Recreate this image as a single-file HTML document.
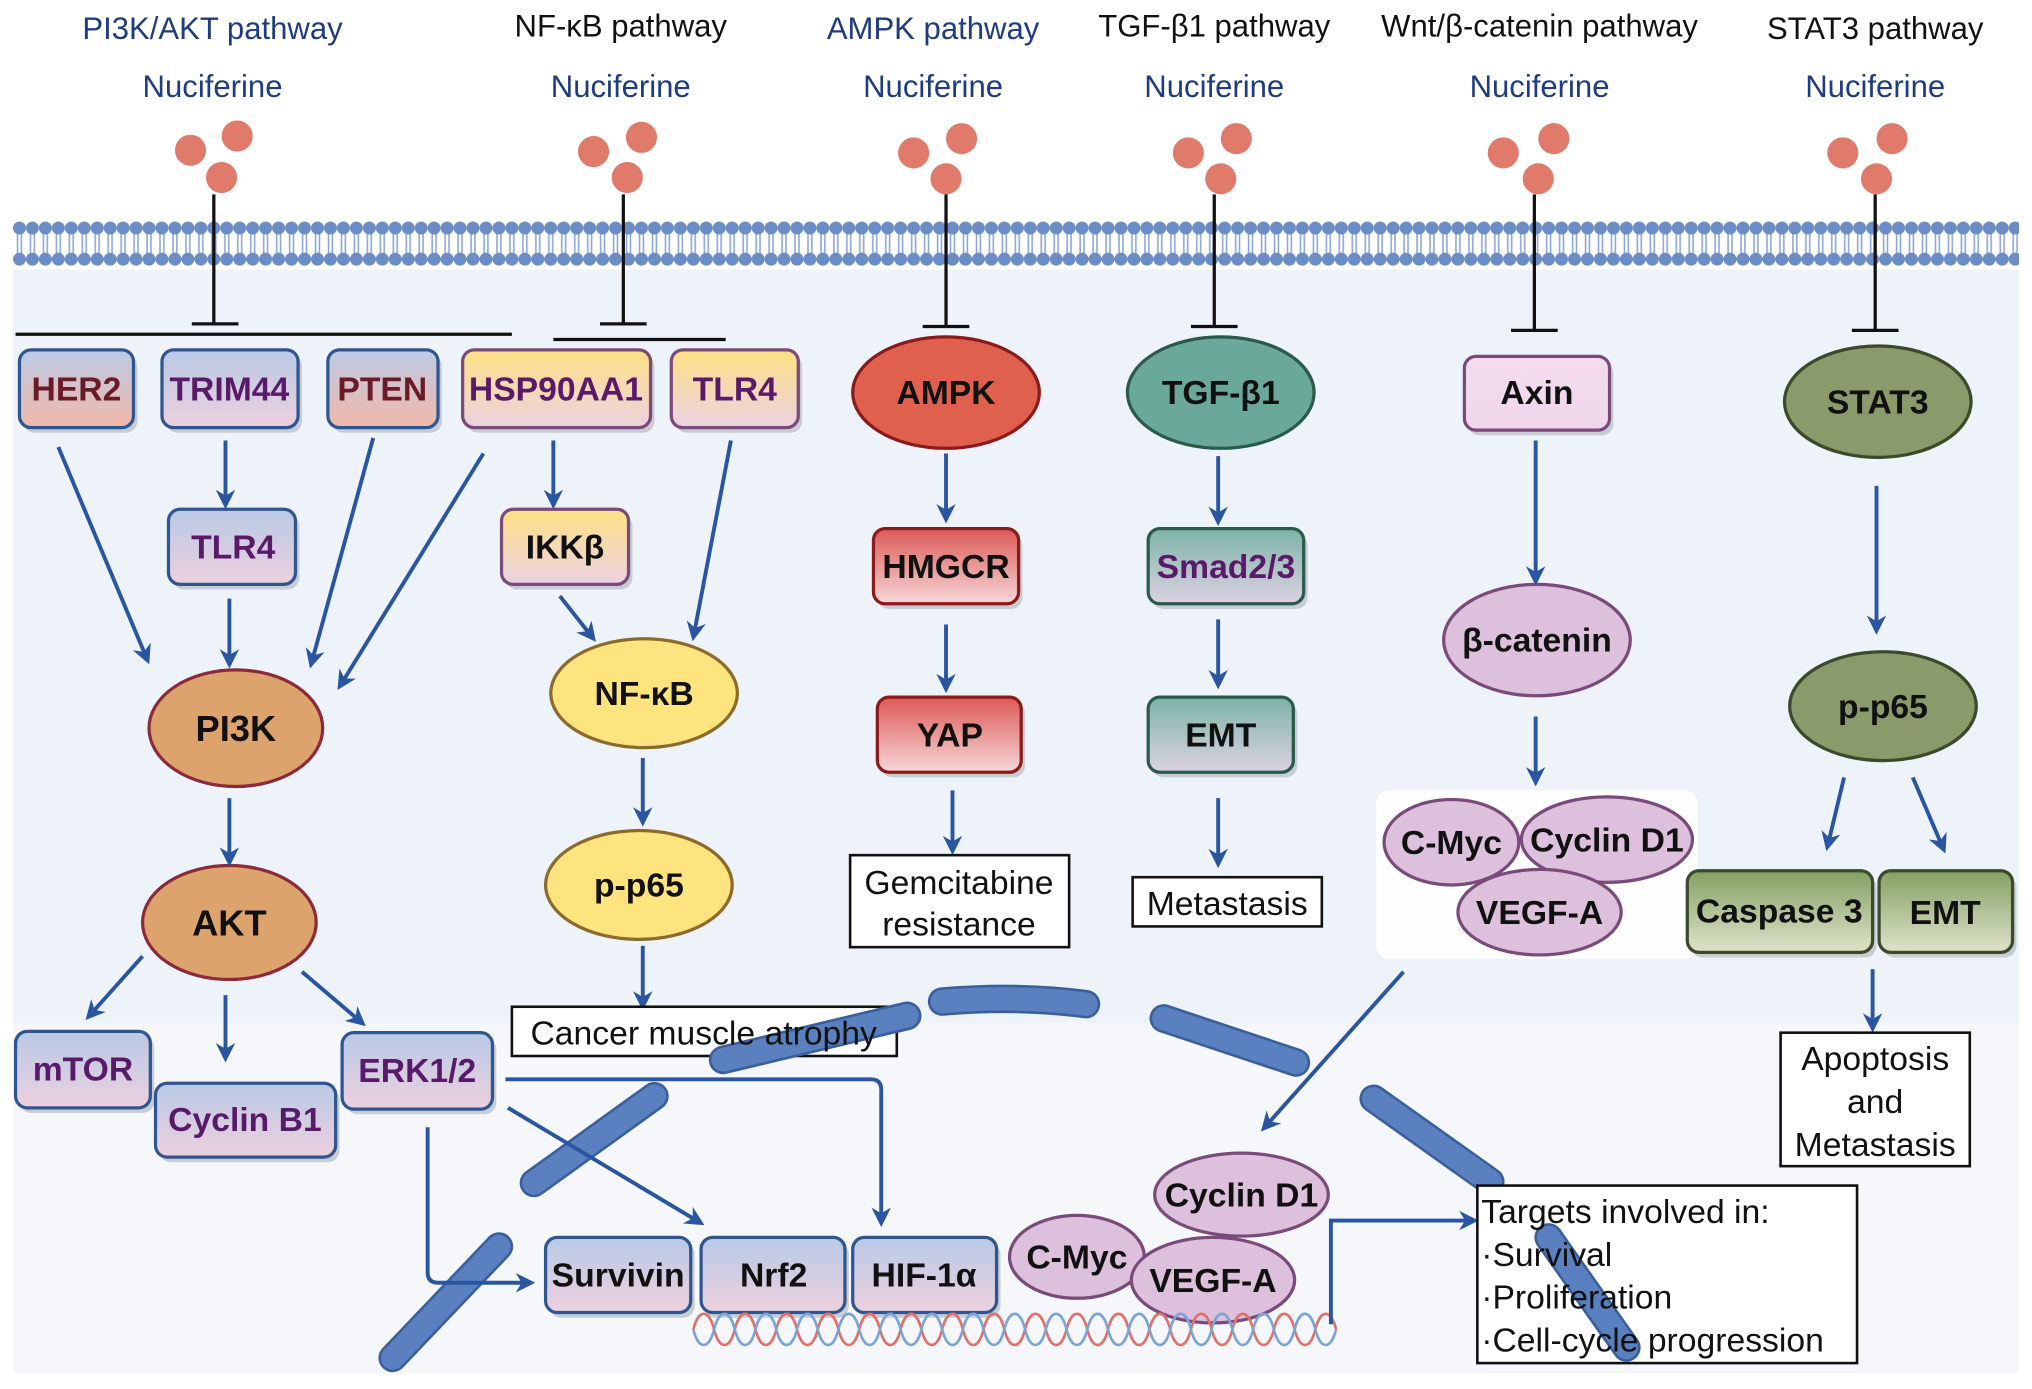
<!DOCTYPE html>
<html><head><meta charset="utf-8"><style>html,body{margin:0;padding:0;background:#fff}svg{display:block}</style></head><body>
<svg width="2032" height="1389" viewBox="0 0 1568 1072" preserveAspectRatio="none" xmlns="http://www.w3.org/2000/svg" font-family="Liberation Sans, Arial, sans-serif">
<defs>
<linearGradient id="gb" x1="0" y1="0" x2="0" y2="1"><stop offset="0" stop-color="#b9c9e6"/><stop offset="1" stop-color="#ecd0de"/></linearGradient>
<linearGradient id="gbr" x1="0" y1="0" x2="0" y2="1"><stop offset="0" stop-color="#bccbe6"/><stop offset="1" stop-color="#f0b8a8"/></linearGradient>
<linearGradient id="gy" x1="0" y1="0" x2="0" y2="1"><stop offset="0" stop-color="#fde084"/><stop offset="1" stop-color="#ecd2e2"/></linearGradient>
<linearGradient id="gr" x1="0" y1="0" x2="0" y2="1"><stop offset="0" stop-color="#dc5a56"/><stop offset="1" stop-color="#f6d6d8"/></linearGradient>
<linearGradient id="gt" x1="0" y1="0" x2="0" y2="1"><stop offset="0" stop-color="#7db3a6"/><stop offset="1" stop-color="#dcd2e2"/></linearGradient>
<linearGradient id="gg" x1="0" y1="0" x2="0" y2="1"><stop offset="0" stop-color="#84a062"/><stop offset="1" stop-color="#dfe2cc"/></linearGradient>
<linearGradient id="gp" x1="0" y1="0" x2="0" y2="1"><stop offset="0" stop-color="#f4dcef"/><stop offset="1" stop-color="#f0d6ea"/></linearGradient>
<pattern id="mem" x="10" y="158" width="10" height="50" patternUnits="userSpaceOnUse">
<line x1="3.5" y1="20" x2="3.5" y2="40" stroke="#8aa4d4" stroke-width="1.2"/><line x1="6.5" y1="20" x2="6.5" y2="40" stroke="#8aa4d4" stroke-width="1.2"/>
<circle cx="5" cy="18" r="5" fill="#6c8cc6"/><circle cx="5" cy="42" r="5" fill="#6c8cc6"/>
</pattern>
<marker id="ar" viewBox="0 0 10 10" refX="8" refY="5" markerWidth="5" markerHeight="5" orient="auto"><path d="M0,0 L10,5 L0,10 L3,5 z" fill="#2a55a0"/></marker>
</defs>
<rect x="10" y="200" width="1548" height="590" fill="#eef3fa"/>
<rect x="10" y="790" width="1548" height="270" fill="#f5f7fa"/>
<rect x="10" y="168" width="1548" height="40" fill="#fff"/>
<rect x="10" y="158" width="1548" height="50" fill="url(#mem)"/>

<!-- curved background strands -->
<g stroke="#3a5f9e" stroke-width="22" stroke-linecap="round" fill="none">
<path d="M558,818 L700,784"/><path d="M727,773 Q785,768 838,775"/><path d="M898,786 L1000,820"/><path d="M1060,848 L1150,912"/><path d="M412,913 L505,846"/><path d="M303,1048 L385,962"/>
</g>
<g stroke="#5a80c0" stroke-width="18" stroke-linecap="round" fill="none">
<path d="M558,818 L700,784"/><path d="M727,773 Q785,768 838,775"/><path d="M898,786 L1000,820"/><path d="M1060,848 L1150,912"/><path d="M412,913 L505,846"/><path d="M303,1048 L385,962"/>
</g>

<!-- titles -->
<g font-size="24" text-anchor="middle">
<text x="164" y="30" fill="#1f3c80">PI3K/AKT pathway</text>
<text x="479" y="28" fill="#111">NF-κB pathway</text>
<text x="720" y="30" fill="#1f3c80">AMPK pathway</text>
<text x="937" y="28" fill="#111">TGF-β1 pathway</text>
<text x="1188" y="28" fill="#111">Wnt/β-catenin pathway</text>
<text x="1447" y="30" fill="#111">STAT3 pathway</text>
<g fill="#1f3c80"><text x="164" y="75">Nuciferine</text><text x="479" y="75">Nuciferine</text><text x="720" y="75">Nuciferine</text><text x="937" y="75">Nuciferine</text><text x="1188" y="75">Nuciferine</text><text x="1447" y="75">Nuciferine</text></g>
</g>
<g fill="#e07a6a">
<circle cx="147" cy="116" r="12"/><circle cx="183" cy="105" r="12"/><circle cx="171" cy="137" r="12"/>
<circle cx="458" cy="117" r="12"/><circle cx="495" cy="106" r="12"/><circle cx="484" cy="137" r="12"/>
<circle cx="705" cy="118" r="12"/><circle cx="742" cy="107" r="12"/><circle cx="730" cy="138" r="12"/>
<circle cx="917" cy="118" r="12"/><circle cx="954" cy="107" r="12"/><circle cx="942" cy="138" r="12"/>
<circle cx="1160" cy="118" r="12"/><circle cx="1199" cy="107" r="12"/><circle cx="1187" cy="138" r="12"/>
<circle cx="1422" cy="118" r="12"/><circle cx="1460" cy="107" r="12"/><circle cx="1448" cy="138" r="12"/>
</g>
<g stroke="#111" stroke-width="2.5">
<line x1="165" y1="150" x2="165" y2="250"/><line x1="148" y1="250" x2="184" y2="250"/><line x1="12" y1="258" x2="395" y2="258"/>
<line x1="481" y1="150" x2="481" y2="250"/><line x1="463" y1="250" x2="499" y2="250"/><line x1="427" y1="262" x2="560" y2="262"/>
<line x1="730" y1="150" x2="730" y2="252"/><line x1="712" y1="252" x2="748" y2="252"/>
<line x1="937" y1="150" x2="937" y2="252"/><line x1="919" y1="252" x2="955" y2="252"/>
<line x1="1184" y1="150" x2="1184" y2="255"/><line x1="1166" y1="255" x2="1202" y2="255"/>
<line x1="1447" y1="150" x2="1447" y2="255"/><line x1="1429" y1="255" x2="1465" y2="255"/>
</g>

<rect x="1062" y="610" width="248" height="130" rx="10" fill="#fff" opacity="0.9"/>

<g stroke-width="2.5" font-weight="bold" font-size="26" text-anchor="middle">
<g fill="#c8ccd4" stroke="none">
<rect x="18" y="274" width="88" height="60" rx="9"/><rect x="128" y="274" width="105" height="60" rx="9"/><rect x="256" y="274" width="85" height="60" rx="9"/><rect x="360" y="274" width="145" height="60" rx="9"/><rect x="521" y="274" width="98" height="60" rx="9"/>
<rect x="133" y="397" width="98" height="58" rx="9"/><rect x="390" y="397" width="98" height="58" rx="9"/>
<rect x="15" y="800" width="104" height="59" rx="9"/><rect x="123" y="840" width="139" height="57" rx="9"/><rect x="267" y="801" width="116" height="59" rx="9"/>
<rect x="677" y="412" width="112" height="58" rx="9"/><rect x="680" y="542" width="111" height="58" rx="9"/>
<rect x="889" y="412" width="120" height="58" rx="9"/><rect x="889" y="542" width="112" height="58" rx="9"/>
<rect x="1133" y="279" width="112" height="57" rx="9"/>
<rect x="1305" y="676" width="143" height="63" rx="9"/><rect x="1453" y="676" width="103" height="63" rx="9"/>
<rect x="424" y="959" width="112" height="58" rx="9"/><rect x="544" y="959" width="111" height="58" rx="9"/><rect x="661" y="959" width="111" height="58" rx="9"/>
</g>
<rect x="15" y="270" width="88" height="60" rx="9" fill="url(#gbr)" stroke="#2f5690"/><text x="59" y="309" fill="#6b1a2a">HER2</text>
<rect x="125" y="270" width="105" height="60" rx="9" fill="url(#gb)" stroke="#2f5690"/><text x="177" y="309" fill="#5a1a6a">TRIM44</text>
<rect x="253" y="270" width="85" height="60" rx="9" fill="url(#gbr)" stroke="#2f5690"/><text x="295" y="309" fill="#6b1a2a">PTEN</text>
<rect x="357" y="270" width="145" height="60" rx="9" fill="url(#gy)" stroke="#7a4a7a"/><text x="429" y="309" fill="#5a1a6a">HSP90AA1</text>
<rect x="518" y="270" width="98" height="60" rx="9" fill="url(#gy)" stroke="#7a4a7a"/><text x="567" y="309" fill="#5a1a6a">TLR4</text>
<rect x="130" y="393" width="98" height="58" rx="9" fill="url(#gb)" stroke="#2f5690"/><text x="180" y="431" fill="#5a1a6a">TLR4</text>
<rect x="387" y="393" width="98" height="58" rx="9" fill="url(#gy)" stroke="#7a4a7a"/><text x="436" y="431" fill="#111">IKKβ</text>
<rect x="12" y="796" width="104" height="59" rx="9" fill="url(#gb)" stroke="#2f5690"/><text x="64" y="834" fill="#5a1a6a">mTOR</text>
<rect x="120" y="836" width="139" height="57" rx="9" fill="url(#gb)" stroke="#2f5690"/><text x="189" y="873" fill="#5a1a6a">Cyclin B1</text>
<rect x="264" y="797" width="116" height="59" rx="9" fill="url(#gb)" stroke="#2f5690"/><text x="322" y="835" fill="#5a1a6a">ERK1/2</text>
<rect x="674" y="408" width="112" height="58" rx="9" fill="url(#gr)" stroke="#8b1a1a"/><text x="730" y="446" fill="#111">HMGCR</text>
<rect x="677" y="538" width="111" height="58" rx="9" fill="url(#gr)" stroke="#8b1a1a"/><text x="733" y="576" fill="#111">YAP</text>
<rect x="886" y="408" width="120" height="58" rx="9" fill="url(#gt)" stroke="#2a5a4a"/><text x="946" y="446" fill="#5a1a6a">Smad2/3</text>
<rect x="886" y="538" width="112" height="58" rx="9" fill="url(#gt)" stroke="#2a5a4a"/><text x="942" y="576" fill="#111">EMT</text>
<rect x="1130" y="275" width="112" height="57" rx="9" fill="url(#gp)" stroke="#7a4a7a"/><text x="1186" y="312" fill="#111">Axin</text>
<rect x="1302" y="672" width="143" height="63" rx="9" fill="url(#gg)" stroke="#3a4a2a"/><text x="1373" y="712" fill="#111">Caspase 3</text>
<rect x="1450" y="672" width="103" height="63" rx="9" fill="url(#gg)" stroke="#3a4a2a"/><text x="1501" y="713" fill="#111">EMT</text>
<rect x="421" y="955" width="112" height="58" rx="9" fill="url(#gb)" stroke="#2f5690"/><text x="477" y="993" fill="#111">Survivin</text>
<rect x="541" y="955" width="111" height="58" rx="9" fill="url(#gb)" stroke="#2f5690"/><text x="597" y="993" fill="#111">Nrf2</text>
<rect x="658" y="955" width="111" height="58" rx="9" fill="url(#gb)" stroke="#2f5690"/><text x="713" y="993" fill="#111">HIF-1α</text>

<ellipse cx="182" cy="562" rx="67" ry="45" fill="#dca36c" stroke="#8b2a3a"/><text x="182" y="572" fill="#111" font-size="28">PI3K</text>
<ellipse cx="177" cy="712" rx="67" ry="44" fill="#dca36c" stroke="#8b2a3a"/><text x="177" y="722" fill="#111" font-size="28">AKT</text>
<ellipse cx="497" cy="535" rx="72" ry="42" fill="#fde47e" stroke="#8b6a2a"/><text x="497" y="544" fill="#111">NF-κB</text>
<ellipse cx="493" cy="683" rx="72" ry="42" fill="#fde47e" stroke="#8b6a2a"/><text x="493" y="692" fill="#111">p-p65</text>
<ellipse cx="730" cy="303" rx="72" ry="43" fill="#e0604e" stroke="#8b1a1a"/><text x="730" y="312" fill="#111">AMPK</text>
<ellipse cx="942" cy="303" rx="72" ry="43" fill="#6aa89a" stroke="#2a5a4a"/><text x="942" y="312" fill="#111">TGF-β1</text>
<ellipse cx="1186" cy="494" rx="72" ry="43" fill="#dcc0dc" stroke="#7a4a7a"/><text x="1186" y="503" fill="#111">β-catenin</text>
<ellipse cx="1120" cy="650" rx="52" ry="33" fill="#dcc0dc" stroke="#7a4a7a"/><text x="1120" y="659" fill="#111">C-Myc</text>
<ellipse cx="1240" cy="648" rx="66" ry="33" fill="#dcc0dc" stroke="#7a4a7a"/><text x="1240" y="657" fill="#111">Cyclin D1</text>
<ellipse cx="1188" cy="704" rx="63" ry="33" fill="#dcc0dc" stroke="#7a4a7a"/><text x="1188" y="713" fill="#111">VEGF-A</text>
<ellipse cx="1449" cy="310" rx="72" ry="43" fill="#8a9a6a" stroke="#3a4a2a"/><text x="1449" y="319" fill="#111">STAT3</text>
<ellipse cx="1453" cy="545" rx="72" ry="42" fill="#8a9a6a" stroke="#3a4a2a"/><text x="1453" y="554" fill="#111">p-p65</text>
<ellipse cx="958" cy="922" rx="67" ry="32" fill="#dcc0dc" stroke="#7a4a7a"/><text x="958" y="931" fill="#111">Cyclin D1</text>
<ellipse cx="831" cy="970" rx="52" ry="32" fill="#dcc0dc" stroke="#7a4a7a"/><text x="831" y="979" fill="#111">C-Myc</text>
<ellipse cx="936" cy="988" rx="63" ry="33" fill="#dcc0dc" stroke="#7a4a7a"/><text x="936" y="997" fill="#111">VEGF-A</text>
</g>

<g stroke-width="2" fill="none">
<path d="M535,1026 C539,1010 547,1010 551,1026 S563,1042 567,1026 S579,1010 583,1026 S595,1042 599,1026 S611,1010 615,1026 S627,1042 631,1026 S643,1010 647,1026 S659,1042 663,1026 S675,1010 679,1026 S691,1042 695,1026 S707,1010 711,1026 S723,1042 727,1026 S739,1010 743,1026 S755,1042 759,1026 S771,1010 775,1026 S787,1042 791,1026 S803,1010 807,1026 S819,1042 823,1026 S835,1010 839,1026 S851,1042 855,1026 S867,1010 871,1026 S883,1042 887,1026 S899,1010 903,1026 S915,1042 919,1026 S931,1010 935,1026 S947,1042 951,1026 S963,1010 967,1026 S979,1042 983,1026 S995,1010 999,1026 S1011,1042 1015,1026 S1027,1010 1031,1026" stroke="#e0706a"/>
<path d="M535,1026 C539,1042 547,1042 551,1026 S563,1010 567,1026 S579,1042 583,1026 S595,1010 599,1026 S611,1042 615,1026 S627,1010 631,1026 S643,1042 647,1026 S659,1010 663,1026 S675,1042 679,1026 S691,1010 695,1026 S707,1042 711,1026 S723,1010 727,1026 S739,1042 743,1026 S755,1010 759,1026 S771,1042 775,1026 S787,1010 791,1026 S803,1042 807,1026 S819,1010 823,1026 S835,1042 839,1026 S851,1010 855,1026 S867,1042 871,1026 S883,1010 887,1026 S899,1042 903,1026 S915,1010 919,1026 S931,1042 935,1026 S947,1010 951,1026 S963,1042 967,1026 S979,1010 983,1026 S995,1042 999,1026 S1011,1010 1015,1026 S1027,1042 1031,1026" stroke="#7aa4d8"/>
</g>

<g stroke="#2a55a0" stroke-width="3" fill="none" marker-end="url(#ar)">
<line x1="45" y1="345" x2="114" y2="510"/>
<line x1="174" y1="340" x2="174" y2="390"/>
<line x1="288" y1="338" x2="240" y2="513"/>
<line x1="373" y1="350" x2="262" y2="530"/>
<line x1="177" y1="462" x2="177" y2="513"/>
<line x1="427" y1="340" x2="427" y2="390"/>
<line x1="432" y1="460" x2="458" y2="493"/>
<line x1="564" y1="340" x2="535" y2="492"/>
<line x1="177" y1="616" x2="177" y2="666"/>
<line x1="110" y1="738" x2="68" y2="785"/>
<line x1="174" y1="768" x2="174" y2="817"/>
<line x1="233" y1="750" x2="280" y2="790"/>
<line x1="496" y1="585" x2="496" y2="635"/>
<line x1="496" y1="730" x2="496" y2="777"/>
<line x1="730" y1="350" x2="730" y2="401"/>
<line x1="730" y1="482" x2="730" y2="532"/>
<line x1="735" y1="610" x2="735" y2="657"/>
<line x1="940" y1="352" x2="940" y2="403"/>
<line x1="940" y1="478" x2="940" y2="529"/>
<line x1="940" y1="616" x2="940" y2="667"/>
<line x1="1185" y1="340" x2="1185" y2="449"/>
<line x1="1185" y1="553" x2="1185" y2="604"/>
<line x1="1448" y1="375" x2="1448" y2="487"/>
<line x1="1423" y1="600" x2="1410" y2="654"/>
<line x1="1476" y1="600" x2="1500" y2="656"/>
<line x1="1445" y1="748" x2="1445" y2="794"/>
<line x1="1083" y1="750" x2="975" y2="871"/>
<path d="M390,833 H672 Q680,833 680,841 V944"/>
<line x1="392" y1="855" x2="541" y2="944"/>
<path d="M330,870 V982 Q330,990 338,990 H410"/>
<path d="M1027,1022 V942 H1138"/>
</g>

<g fill="#fff" stroke="#111" stroke-width="2">
<rect x="395" y="777" width="297" height="38"/>
<rect x="656" y="660" width="169" height="71"/>
<rect x="874" y="677" width="146" height="38"/>
<rect x="1374" y="797" width="146" height="103"/>
<rect x="1140" y="915" width="293" height="137"/>
</g>
<g font-size="26" fill="#111" text-anchor="middle">
<text x="740" y="690">Gemcitabine</text><text x="740" y="722">resistance</text>
<text x="947" y="706">Metastasis</text>
<text x="1447" y="826">Apoptosis</text><text x="1447" y="859">and</text><text x="1447" y="892">Metastasis</text>
</g>
<g stroke-linecap="round" fill="none"><path d="M1195,955 L1255,1040" stroke="#3a5f9e" stroke-width="22"/><path d="M1195,955 L1255,1040" stroke="#5a80c0" stroke-width="18"/>
<path d="M558,818 L700,784" stroke="#3a5f9e" stroke-width="22"/><path d="M558,818 L700,784" stroke="#5a80c0" stroke-width="18"/></g>
<text x="543" y="806" font-size="26" fill="#111" text-anchor="middle">Cancer muscle atrophy</text>
<g font-size="26" fill="#111">
<text x="1143" y="944">Targets involved in:</text>
<text x="1143" y="977">·Survival</text>
<text x="1143" y="1010">·Proliferation</text>
<text x="1143" y="1043">·Cell-cycle progression</text>
</g>
</svg>
</body></html>
